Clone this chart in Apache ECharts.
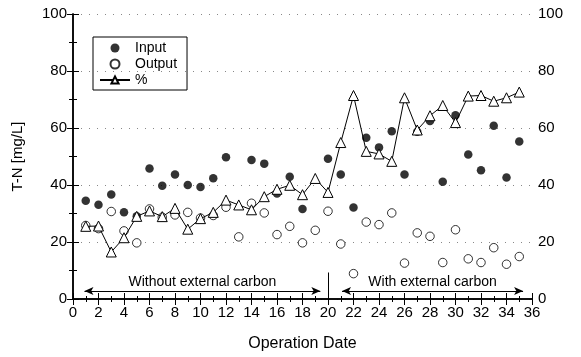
<!DOCTYPE html>
<html><head><meta charset="utf-8">
<script src="https://cdn.jsdelivr.net/npm/echarts@6/dist/echarts.min.js"></script>
<style>html,body{margin:0;padding:0;background:#fff}#c{width:581px;height:357px}</style>
</head><body><div id="c"></div>
<script>
var days = [1,2,3,4,5,6,7,8,9,10,11,12,13,14,15,16,17,18,19,20,21,22,23,24,25,26,27,28,29,30,31,32,33,34,35];
var inputVals = [34.5,33.1,36.7,30.4,29.0,45.8,39.7,43.7,40.0,39.3,42.4,49.7,null,48.8,47.5,37.0,42.9,31.6,null,49.2,43.7,32.1,56.6,53.2,58.9,43.7,58.7,62.5,41.1,64.5,50.7,45.2,60.8,42.6,55.3];
var outputVals = [25.8,24.7,30.7,23.9,19.7,31.6,28.7,29.5,30.4,28.4,29.3,32.2,21.8,33.6,30.2,22.6,25.5,19.7,24.1,30.8,19.3,8.9,27.0,26.1,30.2,12.6,23.2,22.0,12.8,24.3,14.1,12.8,18.0,12.2,14.9];
var pctVals = [25.5,25.6,16.5,21.5,29.0,30.9,28.9,31.8,24.5,28.2,30.4,34.7,33.0,31.3,35.9,38.5,39.9,36.6,42.3,37.4,54.9,71.4,51.8,50.9,48.3,70.6,59.3,64.3,67.9,61.9,71.2,71.4,69.4,70.6,72.6];
var xTicks = {min:0, max:36, interval:2};
var yTicks = {min:0, max:100, interval:20};
var phaseWithout = {label:'Without external carbon', from:0.9, to:19.4, y:2.8};
var phaseWith = {label:'With external carbon', from:21.1, to:35.3, y:2.8};
var divider = {x:20, top:9.3};

function pairs(v){ return days.map(function(d,i){ return [d, v[i]]; }); }
var font = 'Liberation Sans, Arial, sans-serif';
var chart = echarts.init(document.getElementById('c'), null, {renderer:'canvas'});
var axLine = {show:true, lineStyle:{color:'#000', width:1.5}};
var option = {
  animation:false,
  backgroundColor:'#fff',
  textStyle:{fontFamily:font, color:'#000'},
  grid:{left:73, right:49, top:14, bottom:54, show:false},
  legend:{
    left:93, top:37, orient:'vertical', borderColor:'#000', borderWidth:1,
    padding:[4,10,3,6], itemGap:2, itemWidth:30, itemHeight:9,
    textStyle:{fontFamily:font, fontSize:14, color:'#000'},
    data:['Input','Output','%']
  },
  xAxis:[{
    type:'value', min:xTicks.min, max:xTicks.max, interval:xTicks.interval, position:'bottom',
    name:'Operation Date', nameLocation:'middle', nameGap:37,
    nameTextStyle:{fontFamily:font, fontSize:16, color:'#000'},
    axisLine:axLine, axisTick:{inside:true, length:6, lineStyle:{color:'#000'}},
    minorTick:{show:true, splitNumber:2, length:3, lineStyle:{color:'#000'}},
    axisLabel:{fontFamily:font, fontSize:15, color:'#000', margin:6},
    splitLine:{show:false}
  },{
    type:'value', min:xTicks.min, max:xTicks.max, interval:xTicks.interval, position:'top',
    axisLine:axLine, axisTick:{inside:true, length:6, lineStyle:{color:'#000'}},
    minorTick:{show:true, splitNumber:2, length:3, lineStyle:{color:'#000'}},
    axisLabel:{show:false}, splitLine:{show:false}
  }],
  yAxis:[{
    type:'value', min:yTicks.min, max:yTicks.max, interval:yTicks.interval, position:'left',
    name:'T-N [mg/L]', nameLocation:'middle', nameGap:48, nameRotate:90,
    nameTextStyle:{fontFamily:font, fontSize:15, color:'#000'},
    axisLine:axLine, axisTick:{inside:true, length:6, lineStyle:{color:'#000'}},
    minorTick:{show:true, splitNumber:2, length:4, lineStyle:{color:'#000'}},
    axisLabel:{fontFamily:font, fontSize:15, color:'#000', margin:6},
    splitLine:{show:true, lineStyle:{color:'#888', type:[1,7], width:1}}
  },{
    type:'value', min:yTicks.min, max:yTicks.max, interval:yTicks.interval, position:'right',
    axisLine:axLine, axisTick:{inside:true, length:6, lineStyle:{color:'#000'}},
    minorTick:{show:true, splitNumber:2, length:4, lineStyle:{color:'#000'}},
    axisLabel:{fontFamily:font, fontSize:15, color:'#000', margin:6},
    splitLine:{show:false}
  }],
  series:[{
    name:'Input', type:'scatter', symbol:'circle', symbolSize:8.5,
    itemStyle:{color:'#000'}, data:pairs(inputVals),
    markLine:{
      silent:true, symbol:['arrow','arrow'], symbolSize:[6,9],
      lineStyle:{color:'#000', width:1, type:'solid'},
      label:{show:true, position:'insideMiddleTop', fontFamily:font, fontSize:14, color:'#000', distance:2, formatter:function(p){return p.name;}},
      data:[
        [{name:phaseWithout.label, coord:[phaseWithout.from, phaseWithout.y]},{coord:[phaseWithout.to, phaseWithout.y]}],
        [{name:phaseWith.label, coord:[phaseWith.from, phaseWith.y]},{coord:[phaseWith.to, phaseWith.y]}],
        [{name:'', coord:[divider.x, 0], symbol:'none'},{coord:[divider.x, divider.top], symbol:'none'}]
      ]
    }
  },{
    name:'Output', type:'scatter', symbol:'circle', symbolSize:8.5,
    itemStyle:{color:'#fff', borderColor:'#000', borderWidth:1}, data:pairs(outputVals)
  },{
    name:'%', type:'line', symbol:'triangle', symbolSize:10,
    lineStyle:{color:'#000', width:1}, itemStyle:{color:'#fff', borderColor:'#000', borderWidth:1},
    data:pairs(pctVals)
  }]
};
chart.setOption(option);
</script></body></html>
